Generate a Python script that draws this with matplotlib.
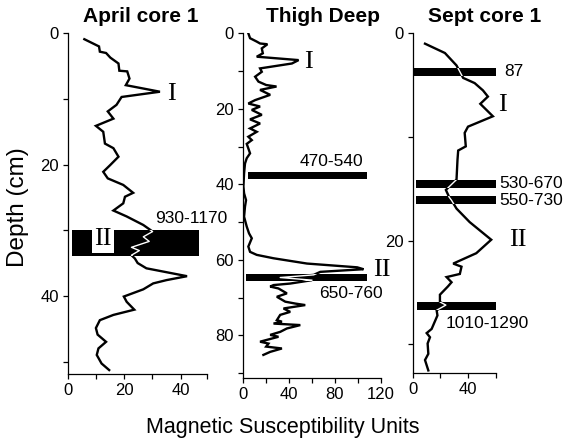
import matplotlib
matplotlib.use("Agg")
import matplotlib.pyplot as plt
from matplotlib.ticker import FixedLocator

plt.rcParams['font.family'] = ['Liberation Sans', 'DejaVu Sans']

W, H = 565, 442

# ---------------- data ----------------
april_val = [5.9, 11.1, 11.4, 13.6, 15.1, 18.0, 18.3, 21.1, 21.9, 20.6, 32.7, 19.1, 17.3, 14.2, 16.2,
             10.0, 12.6, 13.2, 16.2, 18.0, 15.0, 12.6, 14.2, 19.7, 23.2, 20.3, 19.7, 16.2, 20.9, 26.8,
             30.1, 26.8, 28.9, 22.6, 25.4, 22.6, 23.8, 24.8, 27.9, 42.3, 35.0, 30.3, 26.8, 19.9, 20.9,
             23.6, 16.2, 11.4, 10.0, 10.6, 13.6, 10.9, 10.3, 12.0, 14.7]
april_depth = [0.9, 2.0, 2.8, 3.0, 3.7, 4.6, 5.7, 5.8, 6.9, 7.9, 8.9, 9.7, 10.9, 11.9, 13.0,
               14.1, 15.0, 16.8, 17.5, 18.8, 20.1, 21.1, 22.1, 23.1, 24.3, 24.9, 25.9, 27.0, 27.9, 29.2,
               30.2, 31.0, 31.7, 32.6, 33.1, 33.8, 34.3, 35.0, 35.8, 37.0, 37.6, 38.1, 39.0, 40.1, 40.9,
               42.1, 42.9, 43.7, 44.9, 45.9, 47.0, 48.0, 49.0, 50.3, 51.3]

thigh_val = [4.9, 6.4, 12.2, 15.1, 21.5, 16.6, 17.5, 12.2, 48.6, 42.8, 15.1, 16.6, 10.8, 13.7, 20.4,
             29.4, 15.1, 23.9, 10.8, 4.9, 15.1, 7.9, 16.6, 6.4, 15.1, 6.4, 12.2, 4.9, 7.9, 3.5,
             4.9, 6.4, 3.5, 2.0, 1.2, 0.6, 1.2, 2.9, 2.0, 1.2, 3.5, 5.5, 7.9, 4.9, 6.4,
             12.2, 26.8, 55.9, 73.4, 99.6, 105.0, 67.5, 61.7, 32.6, 60.3, 41.3, 26.8, 23.9, 31.1, 38.4,
             29.7, 37.0, 45.7, 54.4, 35.5, 41.3, 32.6, 29.7, 34.1, 26.8, 50.1, 38.4, 32.6, 23.9, 31.1,
             15.1, 22.4, 20.4, 34.1, 23.9, 18.0]
thigh_depth = [0.0, 1.3, 2.2, 2.7, 2.9, 4.0, 5.3, 6.2, 7.1, 8.0, 9.3, 10.2, 11.5, 12.8, 13.7,
               14.1, 15.0, 16.3, 17.7, 18.6, 19.4, 20.3, 21.6, 22.8, 23.9, 25.2, 26.1, 27.4, 28.3, 29.3,
               30.5, 31.8, 33.1, 34.5, 37.1, 40.6, 42.4, 44.2, 45.9, 48.6, 51.2, 53.0, 54.3, 56.5, 57.9,
               58.7, 59.6, 61.0, 61.4, 62.0, 62.5, 63.2, 64.0, 64.7, 65.4, 66.3, 66.7, 67.1, 67.6, 68.9,
               69.8, 71.1, 71.6, 72.0, 72.9, 73.8, 74.6, 76.0, 76.4, 76.9, 77.3, 78.2, 79.1, 79.9, 80.4,
               81.7, 82.2, 83.0, 83.5, 84.4, 85.2]

sept_val = [8.9, 23.3, 31.7, 34.1, 36.5, 44.8, 50.8, 54.4, 48.9, 58.0, 40.0, 37.6, 38.4, 32.9, 32.4,
            31.7, 24.0, 26.4, 28.1, 31.7, 41.2, 56.8, 46.0, 29.3, 35.3, 34.1, 24.5, 28.1, 25.5, 19.7,
            19.7, 24.0, 17.3, 17.9, 13.7, 10.1, 12.5, 10.8, 11.3, 8.9, 10.1, 11.3]
sept_depth = [1.0, 1.9, 3.1, 3.7, 4.3, 4.8, 5.5, 6.1, 6.8, 8.0, 9.0, 9.6, 10.9, 11.3, 12.2,
              14.1, 15.1, 15.8, 16.1, 16.9, 18.2, 19.9, 21.2, 22.2, 22.5, 23.2, 23.5, 24.0, 24.4, 25.2,
              25.9, 26.2, 26.7, 27.2, 28.5, 28.9, 29.3, 29.9, 30.9, 31.5, 32.0, 32.5]

# dated horizons: (label, top depth, bottom depth, left value, right value)
april_bars = [("930-1170", 29.9, 34.0, 1.4, 46.5)]
thigh_bars = [("470-540", 36.8, 38.5, 4.9, 107.7), ("650-760", 63.9, 65.5, 2.9, 107.7)]
sept_bars = [("87", 3.3, 4.1, 0.0, 60.4), ("530-670", 14.1, 14.9, 2.4, 60.0),
             ("550-730", 15.7, 16.5, 2.4, 60.0), ("1010-1290", 25.9, 26.7, 3.4, 60.0)]

titles = ["April core 1", "Thigh Deep", "Sept core 1"]

# ---------------- figure ----------------
fig = plt.figure(figsize=(W / 100, H / 100), dpi=100)


def px_axes(left, right, top, bottom):
    return fig.add_axes([left / W, 1 - bottom / H, (right - left) / W, (bottom - top) / H])


def style(ax, xlim, ylim, xmaj, xmin, ymaj, ymin):
    ax.set_xlim(*xlim)
    ax.set_ylim(ylim[1], ylim[0])
    for s in ("top", "right"):
        ax.spines[s].set_visible(False)
    for s in ("left", "bottom"):
        ax.spines[s].set_linewidth(0.9)
    ax.xaxis.set_major_locator(FixedLocator(xmaj))
    ax.xaxis.set_minor_locator(FixedLocator(xmin))
    ax.yaxis.set_major_locator(FixedLocator(ymaj))
    ax.yaxis.set_minor_locator(FixedLocator(ymin))
    ax.tick_params(which="both", direction="out", length=3.5, width=0.9, labelsize=12, pad=3)


def draw(ax, vals, depths, bars):
    ax.plot(vals, depths, color="black", lw=1.7, zorder=2, solid_joinstyle="miter")
    patches = []
    for lab, top, bot, x0, x1 in bars:
        b = ax.barh((top + bot) / 2, x1 - x0, left=x0, height=bot - top, color="black",
                    zorder=3, clip_on=False)
        patches.append(b.patches[0])
    for p in patches:
        ln, = ax.plot(vals, depths, color="white", lw=1.0, zorder=4)
        ln.set_clip_path(p)


serif = dict(family=["Liberation Serif", "DejaVu Serif"], fontsize=19)
lab_fs = 12.5

# Panel 1
ax1 = px_axes(67.7, 206.5, 33.3, 374)
style(ax1, (0, 49.2), (0, 51.9), [0, 20, 40], [10, 30, 49.2], [0, 20, 40], [10, 30, 50])
draw(ax1, april_val, april_depth, april_bars)
ax1.text(35.3, 9.3, "I", ha="left", va="center", **serif)
ax1.text(12.6, 31.4, "II", ha="center", va="center", zorder=5,
         bbox=dict(facecolor="white", edgecolor="none", pad=1.5), **serif)
ax1.text(30.9, 28.2, april_bars[0][0], ha="left", va="center", fontsize=lab_fs)

# Panel 2
ax2 = px_axes(242.7, 380.7, 33.3, 378.3)
style(ax2, (0, 120), (0, 91.4), [0, 40, 80, 120], [20, 60, 100], [0, 20, 40, 60, 80],
      [10, 30, 50, 70, 90])
draw(ax2, thigh_val, thigh_depth, thigh_bars)
ax2.text(53.0, 7.6, "I", ha="left", va="center", **serif)
ax2.text(113.5, 62.8, "II", ha="left", va="center", clip_on=False, **serif)
ax2.text(77.5, 34.0, thigh_bars[0][0], ha="center", va="center", fontsize=lab_fs)
ax2.text(94.0, 68.9, thigh_bars[1][0], ha="center", va="center", fontsize=lab_fs)

# Panel 3
ax3 = px_axes(412.7, 496.2, 33.3, 372.5)
style(ax3, (0, 60.4), (0, 32.7), [0, 40], [20, 60], [0, 20], [10, 30])
draw(ax3, sept_val, sept_depth, sept_bars)
ax3.text(61.5, 6.9, "I", ha="left", va="center", clip_on=False, **serif)
ax3.text(69.5, 19.9, "II", ha="left", va="center", clip_on=False, **serif)
ax3.text(66.0, 3.7, sept_bars[0][0], ha="left", va="center", fontsize=lab_fs, clip_on=False)
ax3.text(62.6, 14.5, sept_bars[1][0], ha="left", va="center", fontsize=lab_fs, clip_on=False)
ax3.text(62.6, 16.1, sept_bars[2][0], ha="left", va="center", fontsize=lab_fs, clip_on=False)
ax3.text(24.0, 28.0, sept_bars[3][0], ha="left", va="center", fontsize=lab_fs, clip_on=False)

# titles and labels
for t, cx in zip(titles, [141, 323.5, 485]):
    fig.text(cx / W, 1 - 16 / H, t, ha="center", va="center", fontsize=15, fontweight="bold")
fig.text(18 / W, 1 - 207.5 / H, "Depth (cm)", rotation=90, ha="center", va="center", fontsize=17.5)
fig.text(283 / W, 1 - 428 / H, "Magnetic Susceptibility Units", ha="center", va="center", fontsize=15.5)

fig.savefig("out.png", dpi=100)
